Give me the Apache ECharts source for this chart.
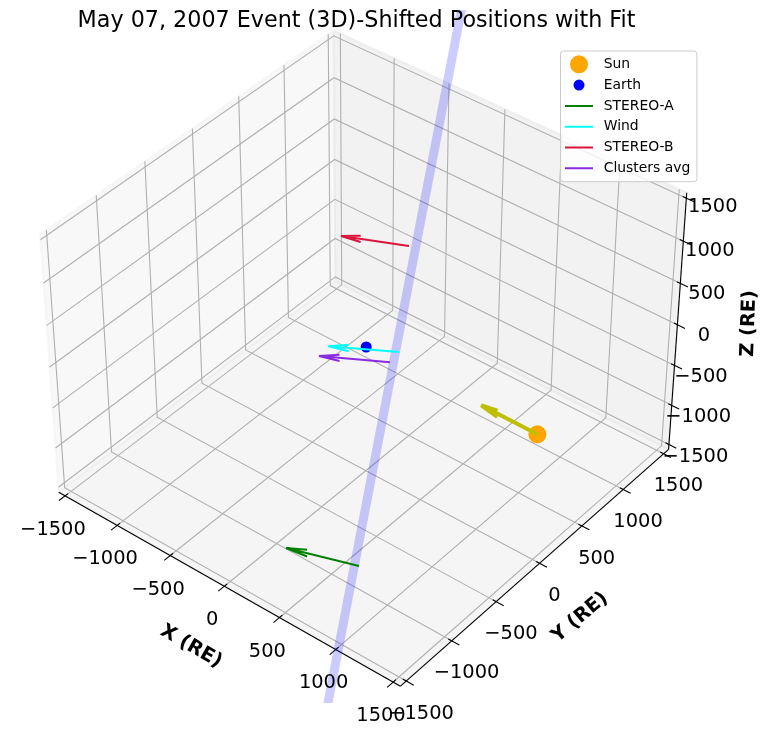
<!doctype html>
<html><head><meta charset="utf-8"><style>html,body{margin:0;padding:0;background:#fff}#c{width:772px;height:734px}</style>
<script src="https://cdn.jsdelivr.net/npm/echarts@6/dist/echarts.min.js"></script></head><body><div id="c"></div>
<script>
// ---- data (RE) ----
const tickValues=[-1500,-1000,-500,0,500,1000,1500];
const tickLabels=['\u22121500','\u22121000','\u2212500','0','500','1000','1500'];
const sunPos=[1504,-6,0];
const earthPos=[11,-9,0];
const sunVec=[-482,2,0];
const stereoATail=[1389,-1789,0], stereoAVec=[-481,-166,0];
const windTail=[224,92,0], windVec=[-424,-262,0];
const stereoBTail=[-474,1084,0], stereoBVec=[-458,-217,0];
const clustersTail=[245,-36,0], clustersVec=[-428,-257,0];
const fitLine=[[2233,-3218,0],[-2249,4063,0]];
// ---- view ----
const camera={elev:0.6861,azim:-0.8912,dist:16.0967,scale:223.1694,cx:365.7954,cy:345.7479,zAspect:0.7444};
const paneLim=1562.5;
const FONT='"DejaVu Sans"';
function proj(pt){
  const c=camera,[x,y,z]=pt,ce=Math.cos(c.elev),se=Math.sin(c.elev),ca=Math.cos(c.azim),sa=Math.sin(c.azim);
  const X=x/paneLim,Y=y/paneLim,Z=z/paneLim*c.zAspect;
  const xc=-sa*X+ca*Y, yc=-ca*se*X-sa*se*Y+ce*Z, zc=ca*ce*X+sa*ce*Y+se*Z;
  const f=c.dist/(c.dist-zc);
  return [c.cx+c.scale*xc*f, c.cy-c.scale*yc*f];
}
function quiverPts(tail,vec){
  const ratio=0.3,ang=15*Math.PI/180,[u,v,w]=vec,nh=Math.hypot(u,v)||1,n=[v/nh,-u/nh,0];
  const end=tail.map((a,i)=>a+vec[i]);
  const cross=[n[1]*w-n[2]*v,n[2]*u-n[0]*w,n[0]*v-n[1]*u];
  const barb=s=>end.map((e,i)=>e-ratio*(vec[i]*Math.cos(ang)+s*cross[i]*Math.sin(ang)));
  return [tail,end,barb(1),end,barb(-1)];
}
const L=paneLim, tickOut=65, tickIn=30;
const panes=[
 {fill:'rgba(242,242,242,0.5)',pts:[[-L,-L,-L],[-L,L,-L],[-L,L,L],[-L,-L,L]]},
 {fill:'rgba(230,230,230,0.5)',pts:[[-L,L,-L],[L,L,-L],[L,L,L],[-L,L,L]]},
 {fill:'rgba(236,236,236,0.5)',pts:[[-L,-L,-L],[L,-L,-L],[L,L,-L],[-L,L,-L]]}
];
const gridLines=[],axisLines=[[[-L,-L,-L],[L,-L,-L]],[[L,-L,-L],[L,L,-L]],[[L,L,-L],[L,L,L]]];
const labels=[];
tickValues.forEach((t,i)=>{
  gridLines.push([[t,-L,-L],[t,L,-L],[t,L,L]]);
  gridLines.push([[L,t,-L],[-L,t,-L],[-L,t,L]]);
  gridLines.push([[-L,-L,t],[-L,L,t],[L,L,t]]);
  axisLines.push([[t,-L-tickOut,-L],[t,-L+tickIn,-L]]);
  axisLines.push([[L+tickOut,t,-L],[L-tickIn,t,-L]]);
  axisLines.push([[L+tickOut,L,t],[L-tickIn,L,t]]);
  labels.push({p:[t,-L,-L],o:[-12.2,34],text:tickLabels[i]});
  labels.push({p:[L,t,-L],o:[14.8,32.5],text:tickLabels[i]});
  labels.push({p:[L,L,t],o:[26.5,10.7-t/1500*1.8],text:tickLabels[i]});
});
const axisTitles=[
 {text:'X (RE)',x:191,y:646.5,rot:-30},
 {text:'Y (RE)',x:580,y:617.5,rot:40},
 {text:'Z (RE)',x:749,y:323.5,rot:88}
];
function polySeries(name,items,z,style,closed,color){
  const s={type:'custom',name,z,silent:true,clip:false,coordinateSystem:'cartesian2d',encode:{x:0,y:1},
    data:items.map(()=>[0,0]),
    renderItem:(p,api)=>({type:closed?'polygon':'polyline',
      shape:{points:(closed?items[p.dataIndex].pts:items[p.dataIndex]).map(q=>api.coord(proj(q)))},
      style:closed?{fill:items[p.dataIndex].fill,stroke:items[p.dataIndex].fill,lineWidth:2}:style})};
  if(color)s.itemStyle={color};
  return s;
}
function arrowSeries(name,tail,vec,color,width){
  return polySeries(name,[quiverPts(tail,vec)],6,{stroke:color,lineWidth:width,fill:'none',lineJoin:'bevel',lineCap:'butt'},false,color);
}
function dotSeries(name,pos,color,size){
  return {type:'scatter',name,z:4,data:[proj(pos)],symbol:'circle',symbolSize:size,silent:true,itemStyle:{color,opacity:1}};
}
const sunIcon='path://M0 0ZM28 18ZM4.5 9a9.5 9.5 0 1 0 19 0a9.5 9.5 0 1 0-19 0Z';
const earthIcon='path://M0 0ZM28 18ZM8.5 9a5.5 5.5 0 1 0 11 0a5.5 5.5 0 1 0-11 0Z';
const lineIcon='path://M0 0ZM28 18ZM0 8H28V10H0Z';
const chart=echarts.init(document.getElementById('c'),null,{renderer:'canvas'});
chart.setOption({
  animation:false,backgroundColor:'#fff',
  title:{text:'May 07, 2007 Event (3D)-Shifted Positions with Fit',left:356.5,top:21,textAlign:'center',textVerticalAlign:'middle',z:9,padding:0,
    textStyle:{fontFamily:FONT,fontSize:22.25,fontWeight:'normal',color:'#000'}},
  grid:{left:0,right:0,top:14.5,bottom:35.5},
  xAxis:{type:'value',min:0,max:772,show:false},
  yAxis:{type:'value',min:14.5,max:698.5,inverse:true,show:false},
  legend:{left:560.5,top:51,orient:'vertical',padding:[4.3,6.7,4.4,4.5],itemWidth:28,itemHeight:18,itemGap:2.8,
    backgroundColor:'rgba(255,255,255,0.8)',borderColor:'#ccc',borderWidth:1,borderRadius:3,z:20,selectedMode:false,
    textStyle:{fontFamily:FONT,fontSize:13.9,color:'#000',padding:[2,0,0,5.7]},
    data:[{name:'Sun',icon:sunIcon},{name:'Earth',icon:earthIcon},{name:'STEREO-A',icon:lineIcon},{name:'Wind',icon:lineIcon},{name:'STEREO-B',icon:lineIcon},{name:'Clusters avg',icon:lineIcon}]},
  series:[
    polySeries('panes',panes,1,null,true),
    polySeries('grid',gridLines,2,{stroke:'#b0b0b0',lineWidth:1.1,fill:'none'}),
    polySeries('axes',axisLines,3,{stroke:'#000',lineWidth:1.1,fill:'none'}),
    {type:'custom',name:'labels',z:8,silent:true,clip:false,coordinateSystem:'cartesian2d',encode:{x:0,y:1},
      data:labels.map(()=>[0,0]),
      renderItem:(p,api)=>{const l=labels[p.dataIndex],c=api.coord(proj(l.p));
        return {type:'text',x:c[0]+l.o[0],y:c[1]+l.o[1],style:{text:l.text,x:0,y:0,fill:'#000',align:'center',verticalAlign:'middle',font:'19.44px '+FONT}};}},
    {type:'custom',name:'axisTitles',z:8,silent:true,clip:false,coordinateSystem:'cartesian2d',encode:{x:0,y:1},
      data:axisTitles.map(t=>[t.x,t.y]),
      renderItem:(p,api)=>{const t=axisTitles[p.dataIndex],c=api.coord([t.x,t.y]);
        return {type:'text',x:c[0],y:c[1],rotation:t.rot*Math.PI/180,style:{text:t.text,x:0,y:0,fill:'#000',align:'center',verticalAlign:'middle',font:'bold 19.44px '+FONT}};}},
    dotSeries('Sun',sunPos,'#ffa500',18),
    dotSeries('Earth',earthPos,'#0000ff',11),
    {type:'line',name:'fit',z:5,data:fitLine.map(proj),symbol:'none',showSymbol:false,silent:true,clip:true,lineStyle:{color:'rgba(0,0,255,0.2)',width:9,cap:'butt'}},
    arrowSeries('sunArrow',sunPos,sunVec,'#bfbf00',4),
    arrowSeries('STEREO-A',stereoATail,stereoAVec,'#008000',2),
    arrowSeries('Wind',windTail,windVec,'#00ffff',2),
    arrowSeries('STEREO-B',stereoBTail,stereoBVec,'#dc143c',2),
    arrowSeries('Clusters avg',clustersTail,clustersVec,'#8a2be2',2)
  ]
});
</script></body></html>
